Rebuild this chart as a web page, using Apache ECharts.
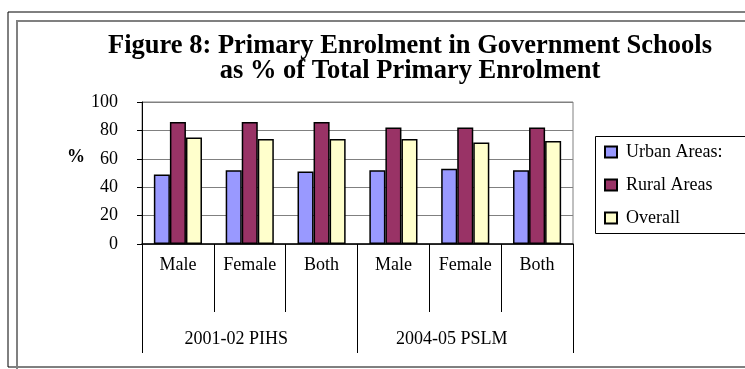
<!DOCTYPE html>
<html>
<head>
<meta charset="utf-8">
<script src="https://cdn.jsdelivr.net/npm/echarts@6.0.0/dist/echarts.min.js"></script>
<style>
  html, body { margin: 0; padding: 0; background: #fff; }
  #main { width: 745px; height: 369px; }
</style>
</head>
<body>
<div id="main"></div>
<script>
// categories (two levels) and series values
var subCats = ['Male', 'Female', 'Both', 'Male', 'Female', 'Both'];
var groupCats = ['2001-02 PIHS', '2004-05 PSLM'];
var seriesNames = ['Urban Areas:', 'Rural Areas', 'Overall'];
var urban = [49, 52, 51, 52, 53, 52];
var rural = [86, 86, 86, 82, 82, 82];
var overall = [75, 74, 74, 74, 71.5, 72.5];
var yTicks = [0, 20, 40, 60, 80, 100];

var serif = 'Liberation Serif, Times New Roman, serif';
var colors = ['#9999FF', '#993366', '#FFFFCC'];

var chart = echarts.init(document.getElementById('main'), null, { renderer: 'canvas' });

function barSeries(name, values, color) {
  return {
    name: name,
    type: 'bar',
    xAxisIndex: 0,
    data: values,
    barGap: '0%',
    barCategoryGap: '33%',
    itemStyle: {
      color: color,
      borderColor: '#000',
      borderWidth: 1.5
    }
  };
}

var option = {
  backgroundColor: '#fff',
  animation: false,
  textStyle: { fontFamily: serif, color: '#000' },
  title: {
    text: 'Figure 8: Primary Enrolment in Government Schools\nas % of Total Primary Enrolment',
    left: 410,
    top: 34,
    textAlign: 'center',
    padding: 0,
    textStyle: {
      fontFamily: serif,
      fontWeight: 'bold',
      fontSize: 26.5,
      lineHeight: 25,
      color: '#000'
    }
  },
  legend: {
    orient: 'vertical',
    left: 604,
    top: 143,
    padding: 0,
    icon: 'rect',
    itemWidth: 12,
    itemHeight: 11,
    itemGap: 15,
    data: seriesNames,
    textStyle: {
      fontFamily: serif,
      fontSize: 18,
      lineHeight: 18,
      color: '#000',
      padding: [0, 0, 0, 4]
    }
  },
  grid: {
    left: 142,
    top: 102,
    width: 431,
    height: 142,
    show: true,
    borderColor: '#808080',
    borderWidth: 1,
    backgroundColor: 'transparent'
  },
  xAxis: [
    {
      type: 'category',
      position: 'bottom',
      data: subCats,
      axisLine: { show: true, lineStyle: { color: '#000', width: 1.5 } },
      axisTick: { show: true, alignWithLabel: false, interval: 0, length: 68, lineStyle: { color: '#000', width: 1 } },
      axisLabel: { interval: 0, margin: 12, fontFamily: serif, fontSize: 18, color: '#000' },
      splitLine: { show: false }
    },
    {
      type: 'category',
      position: 'bottom',
      data: groupCats,
      axisLine: { show: false },
      axisTick: { show: true, alignWithLabel: false, interval: 0, length: 109, lineStyle: { color: '#000', width: 1 } },
      axisLabel: { interval: 0, margin: 86, fontFamily: serif, fontSize: 18, color: '#000', padding: [0, 27, 0, 0] },
      splitLine: { show: false }
    }
  ],
  yAxis: {
    type: 'value',
    min: yTicks[0],
    max: yTicks[yTicks.length - 1],
    interval: 20,
    axisLine: { show: true, lineStyle: { color: '#000', width: 1 } },
    axisTick: { show: true, inside: false, length: 5, lineStyle: { color: '#000' } },
    axisLabel: { margin: 24, fontFamily: serif, fontSize: 18, color: '#000' },
    splitLine: { show: true, lineStyle: { color: '#808080', width: 1 } }
  },
  graphic: [
    // page frame lines
    { type: 'rect', z: -10, shape: { x: 8, y: 12, width: 760, height: 355 }, style: { fill: null, stroke: '#000', lineWidth: 1 } },
    { type: 'rect', z: -10, shape: { x: 17, y: 21, width: 760, height: 400 }, style: { fill: null, stroke: '#808080', lineWidth: 2 } },
    // legend box, runs past the right edge like the original
    { type: 'rect', z: -5, shape: { x: 595.5, y: 136.5, width: 200, height: 97 }, style: { fill: null, stroke: '#000', lineWidth: 1 } },
    // y axis name
    { type: 'text', left: 67, top: 148, style: { text: '%', font: 'bold 18px ' + serif, fill: '#000' } }
  ],
  series: [
    barSeries(seriesNames[0], urban, colors[0]),
    barSeries(seriesNames[1], rural, colors[1]),
    barSeries(seriesNames[2], overall, colors[2])
  ]
};

chart.setOption(option);
</script>
</body>
</html>
